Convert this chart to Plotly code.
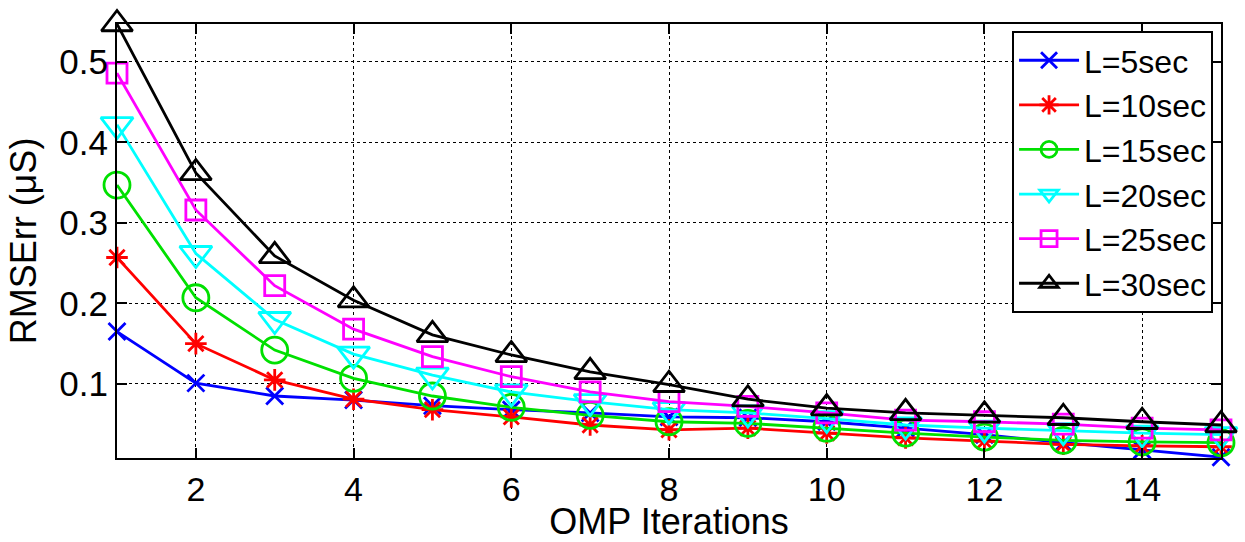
import plotly.graph_objects as go

iterations = list(range(1, 16))
series_names = ["L=5sec", "L=10sec", "L=15sec", "L=20sec", "L=25sec", "L=30sec"]
l5 = [0.165, 0.101, 0.085, 0.080, 0.073, 0.068, 0.064, 0.059, 0.058, 0.053, 0.045, 0.037, 0.027, 0.018, 0.009]
l10 = [0.257, 0.150, 0.105, 0.081, 0.068, 0.059, 0.049, 0.043, 0.045, 0.039, 0.033, 0.029, 0.025, 0.023, 0.022]
l15 = [0.347, 0.207, 0.142, 0.107, 0.085, 0.071, 0.061, 0.053, 0.051, 0.045, 0.039, 0.034, 0.030, 0.028, 0.027]
l20 = [0.422, 0.262, 0.180, 0.137, 0.111, 0.090, 0.078, 0.068, 0.064, 0.057, 0.049, 0.045, 0.042, 0.039, 0.037]
l25 = [0.486, 0.316, 0.222, 0.168, 0.134, 0.109, 0.090, 0.078, 0.072, 0.064, 0.055, 0.053, 0.050, 0.045, 0.043]
l30 = [0.547, 0.362, 0.259, 0.204, 0.161, 0.136, 0.115, 0.099, 0.081, 0.070, 0.064, 0.061, 0.058, 0.053, 0.049]
all_values = [l5, l10, l15, l20, l25, l30]
x_ticks = [2, 4, 6, 8, 10, 12, 14]
y_ticks = [0.1, 0.2, 0.3, 0.4, 0.5]
y_tick_text = ["0.1", "0.2", "0.3", "0.4", "0.5"]

colors = ["#0000ff", "#ff0000", "#00e000", "#00ffff", "#ff00ff", "#000000"]
symbols = ["x-thin-open", "asterisk-open", "circle-open", "triangle-down-open", "square-open", "triangle-up-open"]
sizes = [17, 18, 26, 28, 20, 27]

fig = go.Figure()
for name, vals, c, s, sz in zip(series_names, all_values, colors, symbols, sizes):
    fig.add_trace(go.Scatter(
        x=iterations, y=vals, name=name, mode="lines+markers",
        line=dict(color=c, width=2.8),
        marker=dict(symbol=s, size=sz, color=c, line=dict(color=c, width=2.8)),
        cliponaxis=False,
    ))

font = "Liberation Sans, Arial, Helvetica, sans-serif"
axis_common = dict(
    ticks="inside", ticklen=10, tickwidth=1.5, tickcolor="black",
    showline=True, linecolor="black", linewidth=2, mirror="ticks",
    showgrid=True, gridcolor="black", griddash="dot", gridwidth=1,
    zeroline=False, automargin=False, tickfont=dict(size=35),
)
fig.update_layout(
    width=1245, height=542,
    margin=dict(l=117, r=24, t=24, b=84),
    paper_bgcolor="white", plot_bgcolor="white",
    font=dict(family=font, size=35, color="black"),
    showlegend=True,
    legend=dict(
        x=0.9928, y=0.984, xanchor="right", yanchor="top",
        bgcolor="white", bordercolor="black", borderwidth=2,
        font=dict(size=32, family=font), tracegroupgap=0, itemwidth=60,
    ),
    xaxis=dict(
        range=[1, 15], tickvals=x_ticks,
        title=dict(text="OMP Iterations", font=dict(size=36), standoff=5),
        **axis_common,
    ),
    yaxis=dict(
        range=[0.008, 0.547], tickvals=y_ticks, ticktext=y_tick_text,
        title=dict(text="RMSErr (μS)", font=dict(size=36), standoff=12),
        **axis_common,
    ),
)
fig.update_xaxes(tickfont=dict(size=34))

fig.write_html("out.html", config={"displayModeBar": False},
               post_script="document.body.style.margin='0px';")
